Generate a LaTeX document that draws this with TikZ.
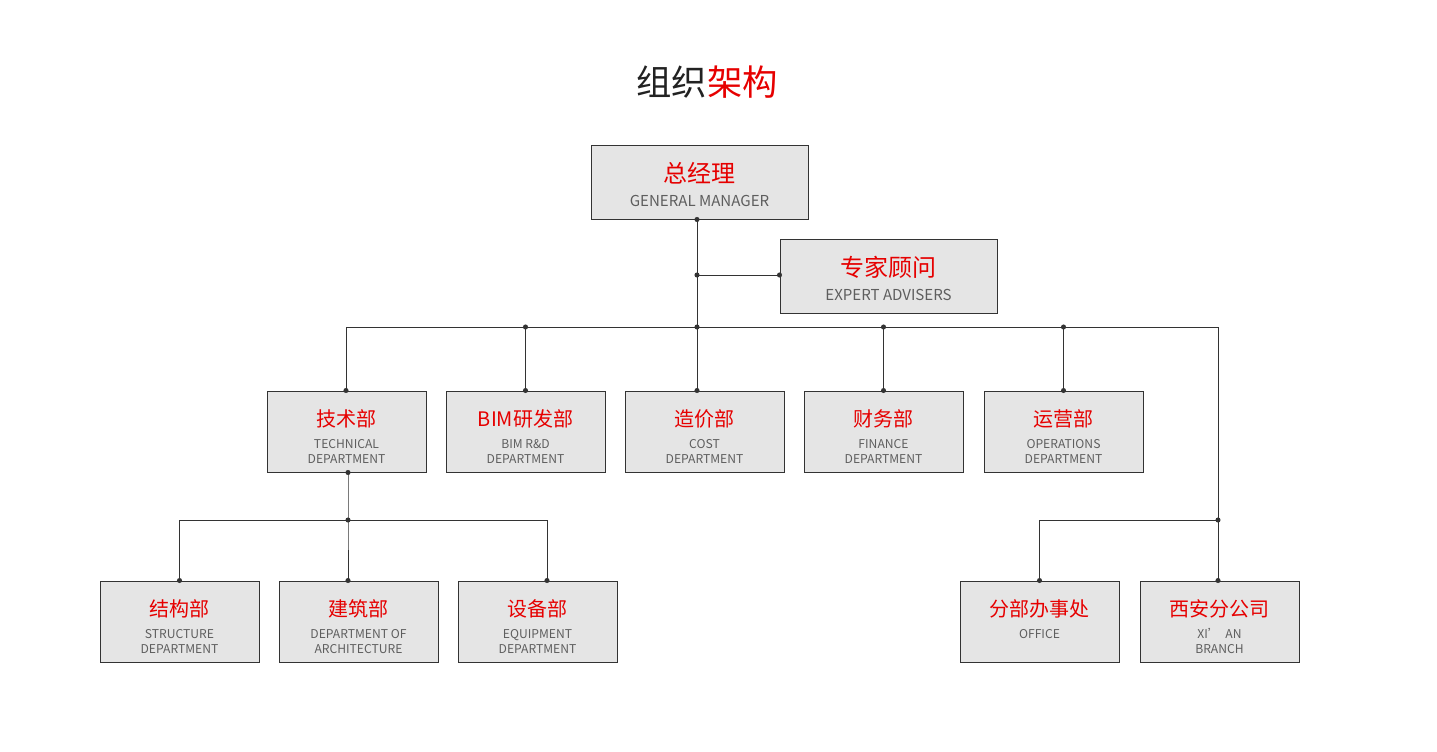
\documentclass[tikz,border=0pt]{standalone}
\usepackage{fontspec}
\usepackage{xcolor}
\setmainfont{Noto Sans CJK SC}
\usetikzlibrary{positioning}

\definecolor{cnred}{HTML}{E60000}
\definecolor{engray}{HTML}{5E5E5E}
\definecolor{boxgray}{HTML}{E5E5E5}
\definecolor{linegray}{HTML}{333333}
\definecolor{titleblack}{HTML}{222222}

\newcommand{\cnfont}{\fontsize{15pt}{15pt}\selectfont\color{cnred}}
\newcommand{\enfont}{\fontsize{9.1pt}{9.1pt}\selectfont\color{engray}}
\newcommand{\cnbig}{\fontsize{18pt}{18pt}\selectfont\color{cnred}}
\newcommand{\enbig}{\fontsize{11.3pt}{11.3pt}\selectfont\color{engray}}

\newcommand{\orgtext}[3]{\vbox{\offinterlineskip\halign{\hfil##\hfil\cr
  \noalign{\kern19.9pt}
  \smash{\cnfont #1}\cr\noalign{\kern16.7pt}
  \smash{\enfont #2}\cr\noalign{\kern11.25pt}
  \smash{\enfont #3}\cr}}}
\newcommand{\headtext}[2]{\vbox{\offinterlineskip\halign{\hfil##\hfil\cr
  \noalign{\kern18.5pt}
  \smash{\cnbig #1}\cr\noalign{\kern17.6pt}
  \smash{\enbig #2}\cr}}}

\begin{document}
\begin{tikzpicture}[x=0.75pt, y=-0.75pt,
    dept/.style={rectangle, draw=linegray, line width=0.75pt, fill=boxgray, inner sep=0pt, minimum width=119.25pt, minimum height=60.75pt},
    head/.style={dept, minimum width=162.75pt, minimum height=55.5pt},
    conn/.style={line width=0.75pt, linegray},
    title/.style={font=\fontsize{26.5pt}{26.5pt}\selectfont, text=titleblack}
]
\useasboundingbox (0,0) rectangle (1437,751);

\node[title] (title) at (707,82) {组织{\color{cnred}架构}};

\node[head] (gm) at (699.5,182) {\headtext{总经理}{GENERAL MANAGER}};
\node[head] (expert) at (888.5,276) {\headtext{专家顾问}{EXPERT ADVISERS}};

\node[dept] (tech) at (346.5,431.5) {\orgtext{技术部}{TECHNICAL}{DEPARTMENT}};
\node[dept] (bim) at (525.5,431.5) {\orgtext{BIM研发部}{BIM R\&D}{DEPARTMENT}};
\node[dept] (cost) at (704.5,431.5) {\orgtext{造价部}{COST}{DEPARTMENT}};
\node[dept] (fin) at (883.5,431.5) {\orgtext{财务部}{FINANCE}{DEPARTMENT}};
\node[dept] (ops) at (1063.5,431.5) {\orgtext{运营部}{OPERATIONS}{DEPARTMENT}};

\node[dept] (struct) at (179.5,621.5) {\orgtext{结构部}{STRUCTURE}{DEPARTMENT}};
\node[dept] (arch) at (358.5,621.5) {\orgtext{建筑部}{DEPARTMENT OF}{ARCHITECTURE}};
\node[dept] (equip) at (537.5,621.5) {\orgtext{设备部}{EQUIPMENT}{DEPARTMENT}};
\node[dept] (office) at (1039.5,621.5) {\orgtext{分部办事处}{OFFICE}{}};
\node[dept] (xian) at (1219.5,621.5) {\orgtext{西安分公司}{XI’\ \ AN}{BRANCH}};

\coordinate (trunk) at (697,327);
\coordinate (gmout) at (gm.south -| trunk);
\coordinate (advj) at (697,275);
\coordinate (advin) at (expert.west |- advj);
\coordinate (busL) at (346,327);
\coordinate (busR) at (1218,327);
\coordinate (techin) at (tech.north -| busL);
\coordinate (bimj) at (bim.north |- trunk);
\coordinate (costin) at (cost.north -| trunk);
\coordinate (finj) at (fin.north |- trunk);
\coordinate (opsj) at (ops.north |- trunk);
\coordinate (brj) at (1218,520);
\coordinate (xianin) at (xian.north -| brj);
\coordinate (subj) at (348,520);
\coordinate (techout) at (tech.south -| subj);
\coordinate (archin) at (arch.north -| subj);
\coordinate (equipj) at (547,520);
\coordinate (equipin) at (equip.north -| equipj);

\draw[conn] (gmout) -- (costin);
\draw[conn] (advj) -- (advin);
\draw[conn] (techin) -- (busL) -- (busR) -- (brj);
\draw[conn] (bimj) -- (bim.north);
\draw[conn] (finj) -- (fin.north);
\draw[conn] (opsj) -- (ops.north);
\draw[conn] (office.north) |- (brj) -- (xianin);
\draw[conn] (techout) -- (subj) -- (archin);
\draw[conn] (struct.north) |- (equipj) -- (equipin);

\foreach \p in {gmout, advj, advin, trunk, bimj, finj, opsj, techin, bim.north, costin,
    fin.north, ops.north, brj, office.north, xianin, techout, subj, struct.north, archin, equipin}
  \fill[linegray] (\p) circle (1.9pt);
\end{tikzpicture}
\end{document}
